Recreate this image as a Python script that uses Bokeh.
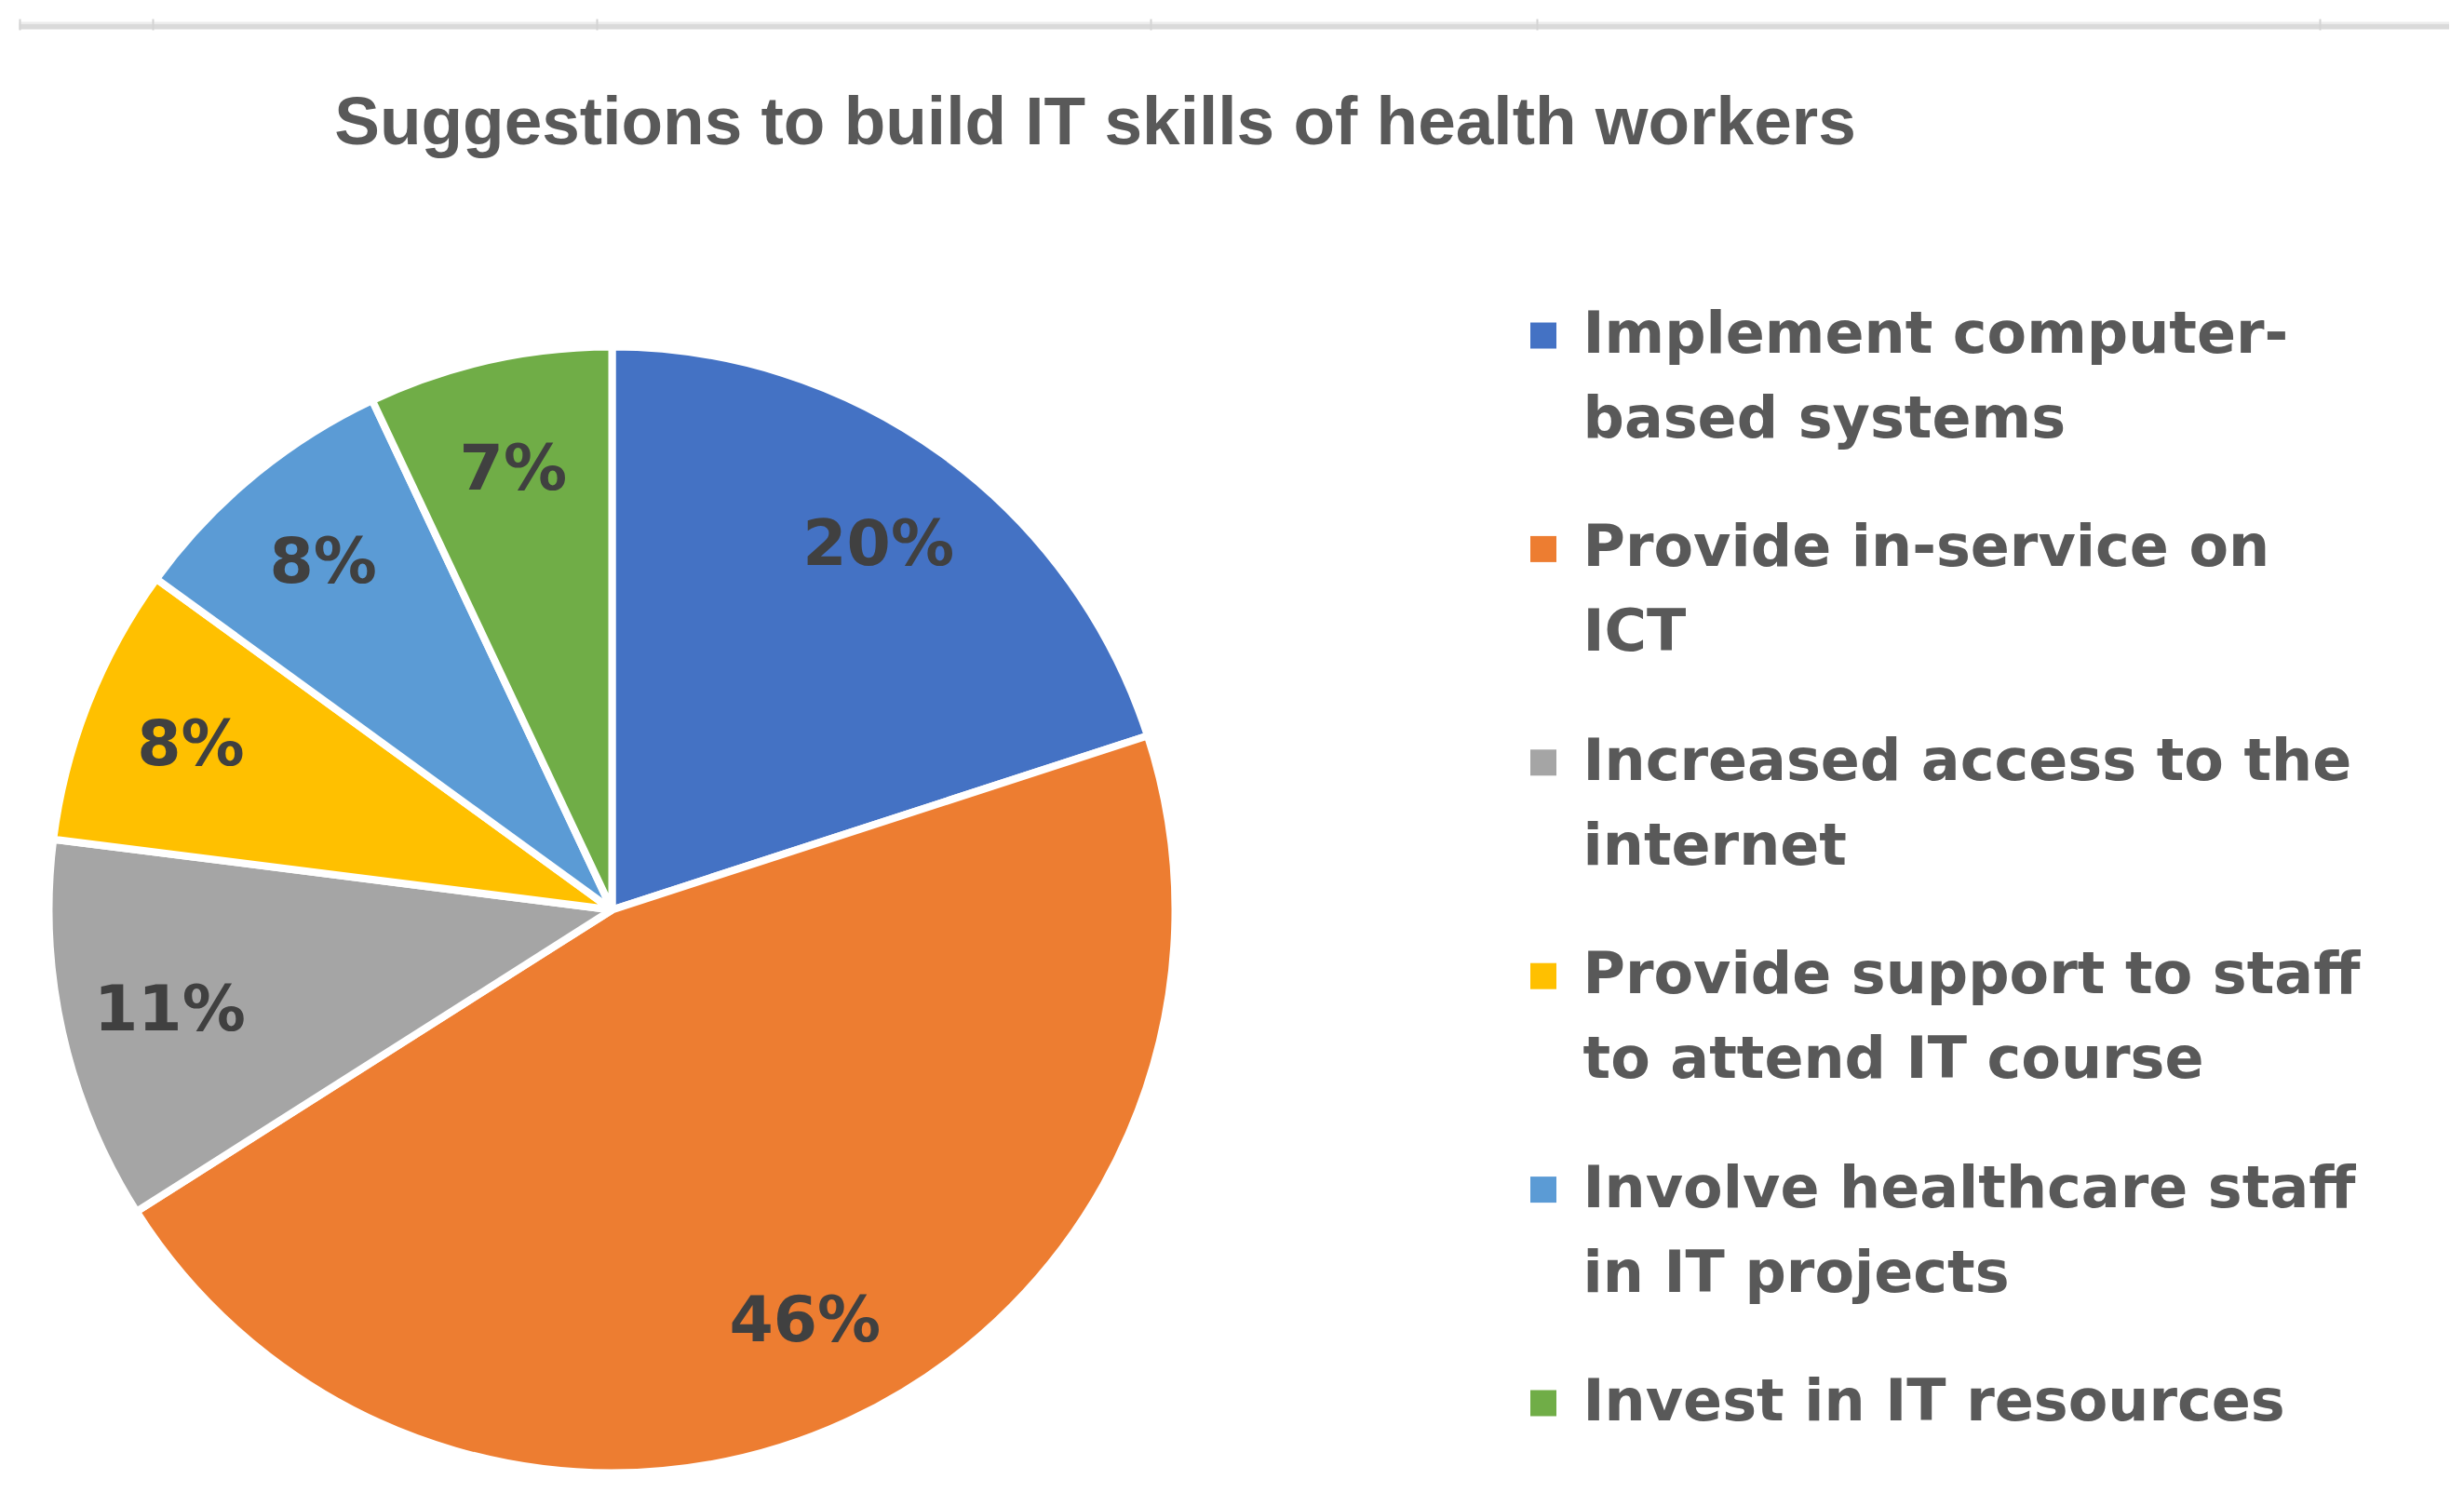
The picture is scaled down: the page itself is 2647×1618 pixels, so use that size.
import math
from bokeh.plotting import figure
from bokeh.models import Range1d, ColumnDataSource
from bokeh.core.properties import value
from bokeh.embed import file_html
from bokeh.resources import INLINE

# ---- data ----
title_text = "Suggestions to build IT skills of health workers"
categories = [
    "Implement computer-\nbased systems",
    "Provide in-service on\nICT",
    "Increased access to the\ninternet",
    "Provide support to staff\nto attend IT course",
    "Involve healthcare staff\nin IT projects",
    "Invest in IT resources",
]
shares = [20, 46, 11, 8, 8, 7]
colors = ["#4472C4", "#ED7D31", "#A5A5A5", "#FFC000", "#5B9BD5", "#70AD47"]

# ---- layout (screen px) ----
W, H = 2631, 1602
def fx(xr): return xr
def fy(yr): return H - yr

p = figure(width=W, height=H, x_range=Range1d(0, W), y_range=Range1d(0, H),
           min_border=0, toolbar_location=None, output_backend="svg")
p.axis.visible = False
p.grid.visible = False
p.outline_line_color = None
p.background_fill_color = "white"
p.border_fill_color = "white"

# top decorative rule
p.segment(x0=[fx(20)], y0=[fy(28)], x1=[W], y1=[fy(28)], line_color="#dadada", line_width=6)
p.segment(x0=[fx(20)], y0=[fy(24)], x1=[W], y1=[fy(24)], line_color="#ececec", line_width=2)
tick_x = [fx(v) for v in (21, 164, 641, 1236, 1651, 2492)]
p.segment(x0=tick_x, y0=[fy(20)] * len(tick_x), x1=tick_x, y1=[fy(32)] * len(tick_x),
          line_color="#d4d4d4", line_width=2)

# title
p.text(x=[fx(1176)], y=[fy(129)], text=[title_text], text_align="center",
       text_baseline="alphabetic", text_font=value("Liberation Sans"),
       text_font_style="bold", text_font_size="73px", text_color="#595959")

# pie
cx, cy, r = fx(657), fy(977), 605
total = float(sum(shares))
starts, ends, mids = [], [], []
cum = 0.0
for s in shares:
    a0 = math.pi / 2 - 2 * math.pi * cum / total
    cum += s
    a1 = math.pi / 2 - 2 * math.pi * cum / total
    starts.append(a0); ends.append(a1); mids.append((a0 + a1) / 2)

src = ColumnDataSource(dict(start=starts, end=ends, color=colors))
p.wedge(x=cx, y=cy, radius=r, start_angle="start", end_angle="end", direction="clock",
        fill_color="color", line_color="white", line_width=8, source=src)

rl = 0.81 * 601
lab_x = [cx + rl * math.cos(m) for m in mids]
lab_y = [cy + rl * math.sin(m) for m in mids]
p.text(x=lab_x, y=lab_y, text=[f"{s}%" for s in shares], text_align="center",
       text_baseline="middle", text_font=value("DejaVu Sans"), text_font_style="bold",
       text_font_size="68px", text_color="#404040")

# legend
sq_x = fx(1657.5)
txt_x = fx(1700)
first_center = 360
step = 229.4
line_gap = 91
sq_xs, sq_ys, tx, ty, tt = [], [], [], [], []
for i, lab in enumerate(categories):
    c = first_center + i * step
    sq_xs.append(sq_x); sq_ys.append(fy(c))
    for j, line in enumerate(lab.split("\n")):
        tx.append(txt_x); ty.append(fy(c - 3 + j * line_gap)); tt.append(line)
p.rect(x=sq_xs, y=sq_ys, width=28, height=28, fill_color=colors, line_color=None)
p.text(x=tx, y=ty, text=tt, text_align="left", text_baseline="alphabetic",
       text_font=value("DejaVu Sans"), text_font_style="bold", text_font_size="62px",
       text_color="#595959")

open("out.html", "w").write(file_html(p, INLINE))
